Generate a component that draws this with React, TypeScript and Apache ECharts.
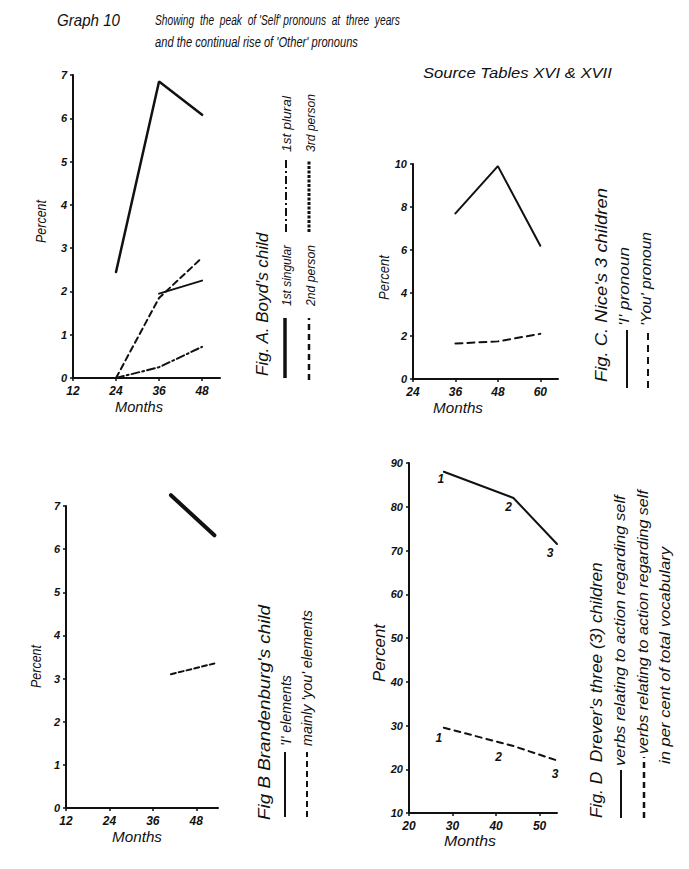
import React, { useEffect, useRef } from 'react';
import * as echarts from 'echarts';

// ---------- Fig. A  Boyd's child ----------
const boydMonths = [24, 36, 48];
const boydFirstSingular = [2.45, 6.85, 6.08];
const boydSecondPerson = [0, 1.85, 2.78];
const boydFirstPlural = [0, 0.25, 0.72];
const boydThirdMonths = [36, 48];
const boydThirdPerson = [1.95, 2.25];
const boydXTicks = [12, 24, 36, 48];
const boydYTicks = [0, 1, 2, 3, 4, 5, 6, 7];

// ---------- Fig. B  Brandenburg's child ----------
const brandMonths = [41, 53];
const brandI = [7.25, 6.32];
const brandYou = [3.1, 3.35];
const brandXTicks = [12, 24, 36, 48];
const brandYTicks = [0, 1, 2, 3, 4, 5, 6, 7];

// ---------- Fig. C  Nice's 3 children ----------
const niceMonths = [36, 48, 60];
const niceI = [7.7, 9.9, 6.2];
const niceYou = [1.65, 1.75, 2.1];
const niceXTicks = [24, 36, 48, 60];
const niceYTicks = [0, 2, 4, 6, 8, 10];

// ---------- Fig. D  Drever's three children ----------
const dreverMonths = [28, 44, 54];
const dreverSelf = [88, 82, 71.5];
const dreverTotal = [29.5, 25.3, 22];
const dreverPointNames = ['1', '2', '3'];
const dreverXTicks = [20, 30, 40, 50];
const dreverYTicks = [10, 20, 30, 40, 50, 60, 70, 80, 90];

const FAMILY = 'Liberation Sans';
const FONT = '"Liberation Sans", "DejaVu Sans", Arial, sans-serif';
const INK = '#111';

let measureCtx: CanvasRenderingContext2D | null = null;
function textWidth(text: string, size: number) {
  if (!measureCtx) measureCtx = document.createElement('canvas').getContext('2d');
  if (!measureCtx) return text.length * size * 0.5;
  measureCtx.font = `italic normal ${size}px "${FAMILY}", sans-serif`;
  return measureCtx.measureText(text).width || text.length * size * 0.5;
}

function pairs(xs: number[], ys: number[]) {
  return xs.map((x, i) => [x, ys[i]]);
}

function xAxis(gridIndex: number, min: number, max: number, ticks: number[]) {
  return {
    type: 'value',
    gridIndex,
    min,
    max,
    splitLine: { show: false },
    axisLine: { show: true, onZero: false, lineStyle: { color: INK, width: 2 } },
    axisTick: { show: true, length: 3, customValues: ticks, lineStyle: { color: INK, width: 1.5 } },
    axisLabel: {
      customValues: ticks,
      color: INK,
      fontFamily: FONT,
      fontStyle: 'italic',
      fontWeight: 'bold',
      fontSize: 12,
      margin: 7,
    },
  };
}

function yAxis(gridIndex: number, min: number, max: number, ticks: number[]) {
  return {
    type: 'value',
    gridIndex,
    min,
    max,
    splitLine: { show: false },
    axisLine: { show: true, onZero: false, lineStyle: { color: INK, width: 2 } },
    axisTick: { show: true, length: 3, customValues: ticks, lineStyle: { color: INK, width: 1.5 } },
    axisLabel: {
      customValues: ticks,
      color: INK,
      fontFamily: FONT,
      fontStyle: 'italic',
      fontWeight: 'bold',
      fontSize: 11,
      margin: 6,
      padding: [0, 0, 7, 0],
    },
  };
}

function lineSeries(idx: number, data: any[], width: number, type: any) {
  return {
    type: 'line',
    xAxisIndex: idx,
    yAxisIndex: idx,
    data,
    symbol: 'none',
    clip: false,
    silent: true,
    lineStyle: { color: INK, width, type, cap: 'round' },
  };
}

// horizontal text fitted to a target length
function htxt(text: string, x: number, y: number, size: number, len: number, align = 'left') {
  return {
    type: 'text',
    x,
    y,
    scaleX: len / textWidth(text, size),
    silent: true,
    style: {
      text,
      fill: INK,
      fontFamily: FONT,
      fontStyle: 'italic',
      fontSize: size,
      textAlign: align,
      textVerticalAlign: 'middle',
      align,
      verticalAlign: 'middle',
    },
  };
}

// vertical text reading bottom-to-top from yStart up to yEnd
function vtxt(text: string, x: number, yStart: number, yEnd: number, size: number) {
  return {
    type: 'text',
    x,
    y: yStart,
    rotation: Math.PI / 2,
    scaleX: (yStart - yEnd) / textWidth(text, size),
    silent: true,
    style: {
      text,
      fill: INK,
      fontFamily: FONT,
      fontStyle: 'italic',
      fontSize: size,
      textAlign: 'left',
      textVerticalAlign: 'middle',
      align: 'left',
      verticalAlign: 'middle',
    },
  };
}

function vline(x: number, y1: number, y2: number, width: number, dash: any) {
  return {
    type: 'line',
    silent: true,
    shape: { x1: x, y1, x2: x, y2 },
    style: { stroke: INK, lineWidth: width, lineDash: dash, lineCap: 'butt' },
  };
}

function dreverData(values: number[], offsets: number[][]) {
  return dreverMonths.map((m, i) => ({
    value: [m, values[i]],
    label: {
      show: true,
      formatter: dreverPointNames[i],
      position: 'inside',
      offset: offsets[i],
      color: INK,
      fontFamily: FONT,
      fontStyle: 'italic',
      fontWeight: 'bold',
      fontSize: 12,
    },
  }));
}

export default function App() {
  const ref = useRef<HTMLDivElement>(null);

  useEffect(() => {
    if (!ref.current) return;
    const chart = echarts.init(ref.current, null, { renderer: 'svg' });

    const option: any = {
      animation: false,
      backgroundColor: '#ffffff',
      grid: [
        { left: 73, top: 75, width: 147, height: 303 },
        { left: 66, top: 506, width: 152, height: 302 },
        { left: 413, top: 164, width: 145, height: 215 },
        { left: 409, top: 463, width: 148, height: 350 },
      ],
      xAxis: [
        xAxis(0, 12, 53, boydXTicks),
        xAxis(1, 12, 54, brandXTicks),
        xAxis(2, 24, 65, niceXTicks),
        xAxis(3, 20, 54, dreverXTicks),
      ],
      yAxis: [
        yAxis(0, 0, 7, boydYTicks),
        yAxis(1, 0, 7, brandYTicks),
        yAxis(2, 0, 10, niceYTicks),
        yAxis(3, 10, 90, dreverYTicks),
      ],
      series: [
        lineSeries(0, pairs(boydMonths, boydFirstSingular), 2.5, 'solid'),
        lineSeries(0, pairs(boydMonths, boydSecondPerson), 2, [6, 4]),
        lineSeries(0, pairs(boydMonths, boydFirstPlural), 2, [8, 3, 2, 3]),
        lineSeries(0, pairs(boydThirdMonths, boydThirdPerson), 2, 'solid'),
        lineSeries(1, pairs(brandMonths, brandI), 4, 'solid'),
        lineSeries(1, pairs(brandMonths, brandYou), 2, [5, 3]),
        lineSeries(2, pairs(niceMonths, niceI), 2, 'solid'),
        lineSeries(2, pairs(niceMonths, niceYou), 2, [7, 5]),
        {
          ...lineSeries(3, dreverData(dreverSelf, [[-3, 7], [-5, 9], [-7, 9]]), 2, 'solid'),
          symbol: 'circle',
          symbolSize: 1,
          showSymbol: true,
          itemStyle: { color: 'rgba(0,0,0,0)' },
        },
        {
          ...lineSeries(3, dreverData(dreverTotal, [[-5, 10], [-15, 11], [-2, 13]]), 2, [6, 5]),
          symbol: 'circle',
          symbolSize: 1,
          showSymbol: true,
          itemStyle: { color: 'rgba(0,0,0,0)' },
        },
      ],
      graphic: [
        // titles
        htxt('Graph 10', 57, 20, 16, 63),
        htxt("Showing  the  peak  of 'Self' pronouns  at  three  years", 155, 20, 14, 245),
        htxt("and the continual rise of 'Other' pronouns", 155, 43, 14, 203),
        htxt('Source Tables XVI & XVII', 423, 73, 15, 189),

        // axis names
        vtxt('Percent', 41, 243, 200, 14),
        htxt('Months', 139, 407, 15, 48, 'center'),
        vtxt('Percent', 36, 688, 645, 14),
        htxt('Months', 137, 837, 15, 50, 'center'),
        vtxt('Percent', 384, 300, 255, 14),
        htxt('Months', 458, 408, 15, 50, 'center'),
        vtxt('Percent', 379, 682, 624, 17),
        htxt('Months', 470, 841, 15, 52, 'center'),

        // Fig A legend
        vtxt("Fig. A. Boyd's child", 262, 376, 232, 16),
        vline(285, 378, 318, 3.5, null),
        vtxt('1st singular', 287, 306, 245, 13),
        vline(286, 232, 160, 2, [8, 3, 2, 3]),
        vtxt('1st plural', 287, 152, 96, 13),
        vline(309, 380, 318, 2.5, [6, 4]),
        vtxt('2nd person', 311, 306, 245, 13),
        vline(309, 232, 160, 3, [3, 1.5]),
        vtxt('3rd person', 311, 152, 94, 13),

        // Fig B legend
        vtxt("Fig B Brandenburg's child", 264, 820, 605, 17),
        vline(285, 817, 752, 2, null),
        vtxt("'I' elements", 286, 746, 675, 14),
        vline(307, 817, 752, 2, [6, 4]),
        vtxt("mainly 'you' elements", 307, 746, 610, 14),

        // Fig C legend
        vtxt("Fig. C. Nice's 3 children", 601, 382, 188, 17),
        vline(627, 388, 330, 2, null),
        vtxt("'I' pronoun", 624, 326, 247, 14),
        vline(648, 388, 330, 2, [7, 5]),
        vtxt("'You' pronoun", 646, 326, 232, 14),

        // Fig D legend
        vtxt("Fig. D  Drever's three (3) children", 596, 818, 562, 17),
        vline(621, 818, 770, 2, null),
        vtxt('verbs relating to action regarding self', 620, 766, 495, 14),
        vline(644, 818, 757, 2.5, [6, 4]),
        vtxt('verbs relating to action regarding self', 643, 754, 490, 14),
        vtxt('in per cent of total vocabulary', 665, 764, 547, 14),
      ],
    };

    chart.setOption(option);
    return () => chart.dispose();
  }, []);

  return (
    <div
      ref={ref}
      style={{ position: 'fixed', left: 0, top: 0, width: 689, height: 869, background: '#fff' }}
    />
  );
}
